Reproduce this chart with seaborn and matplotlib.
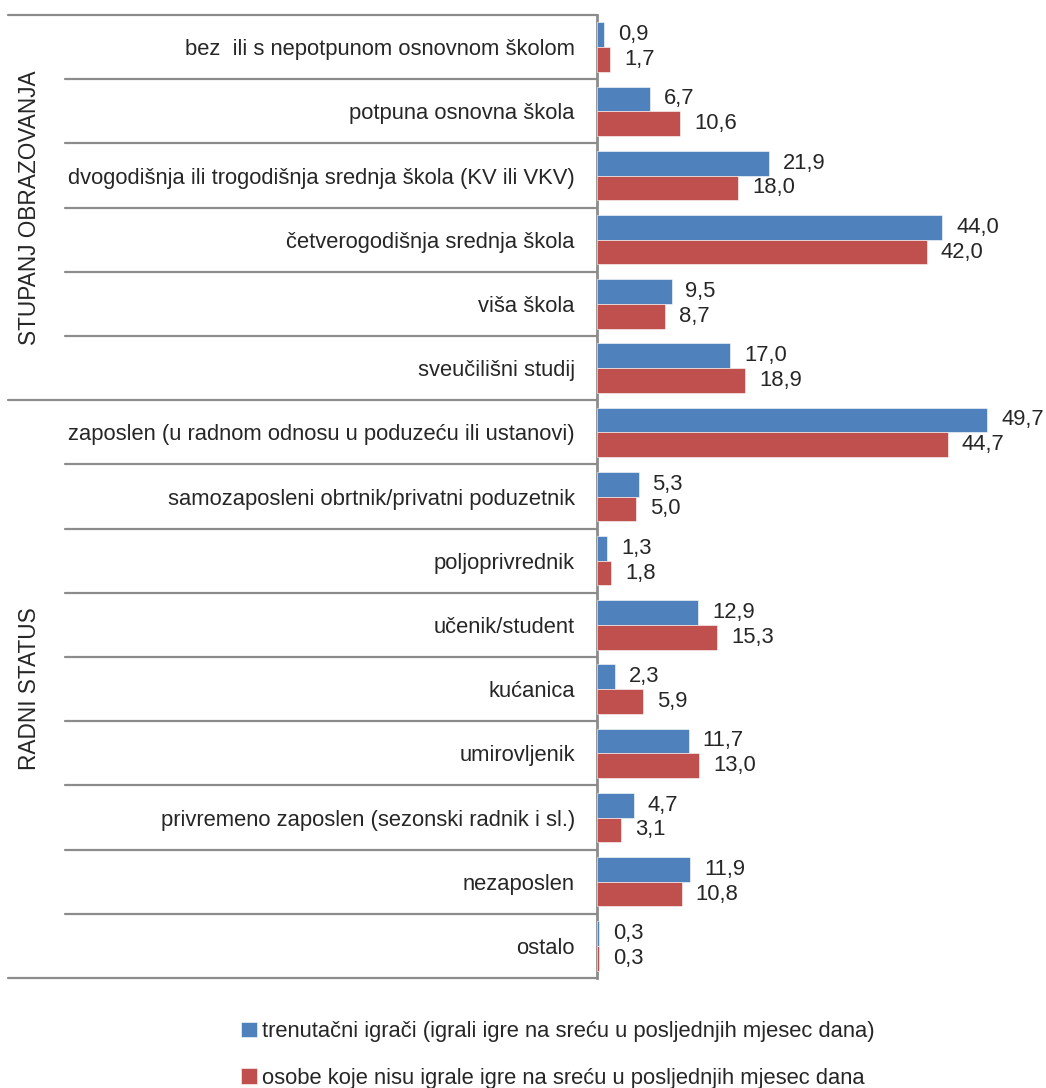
import matplotlib

matplotlib.use("Agg")

import matplotlib.pyplot as plt
import matplotlib.transforms as mtransforms
import pandas as pd
import seaborn as sns
from matplotlib import font_manager

categories = [
    "bez  ili s nepotpunom osnovnom školom",
    "potpuna osnovna škola",
    "dvogodišnja ili trogodišnja srednja škola (KV ili VKV)",
    "četverogodišnja srednja škola",
    "viša škola",
    "sveučilišni studij",
    "zaposlen (u radnom odnosu u poduzeću ili ustanovi)",
    "samozaposleni obrtnik/privatni poduzetnik",
    "poljoprivrednik",
    "učenik/student",
    "kućanica",
    "umirovljenik",
    "privremeno zaposlen (sezonski radnik i sl.)",
    "nezaposlen",
    "ostalo",
]
current_players = [0.9, 6.7, 21.9, 44.0, 9.5, 17.0, 49.7, 5.3, 1.3, 12.9, 2.3, 11.7, 4.7, 11.9, 0.3]
non_players = [1.7, 10.6, 18.0, 42.0, 8.7, 18.9, 44.7, 5.0, 1.8, 15.3, 5.9, 13.0, 3.1, 10.8, 0.3]
series_names = [
    "trenutačni igrači (igrali igre na sreću u posljednjih mjesec dana)",
    "osobe koje nisu igrale igre na sreću u posljednjih mjesec dana",
]
groups = [("STUPANJ OBRAZOVANJA", 0, 6), ("RADNI STATUS", 6, 15)]

names = {f.name for f in font_manager.fontManager.ttflist}
if "Liberation Sans Narrow" in names:
    FONT, SIZE = "Liberation Sans Narrow", 18.5
else:
    FONT, SIZE = "Liberation Sans", 15.8

sns.set_style("white")
plt.rcParams["font.family"] = [FONT, "DejaVu Sans"]

df = pd.DataFrame(
    {
        "category": categories * 2,
        "series": [series_names[0]] * len(categories) + [series_names[1]] * len(categories),
        "value": current_players + non_players,
    }
)

W, H = 1046, 1088
ax_left, ax_right, ax_top, ax_bottom = 597, 1040, 15, 978
fig = plt.figure(figsize=(W / 100, H / 100), dpi=100)
ax = fig.add_axes([ax_left / W, 1 - ax_bottom / H, (ax_right - ax_left) / W, (ax_bottom - ax_top) / H])

sns.barplot(
    data=df,
    y="category",
    x="value",
    hue="series",
    orient="h",
    palette=["#4F81BD", "#C0504D"],
    width=0.77,
    saturation=1,
    edgecolor="white",
    linewidth=0.4,
    ax=ax,
)

ax.set_xlim(0, (ax_right - ax_left) / 7.85)
ax.set_ylim(len(categories) - 0.5, -0.5)
ax.set_xlabel("")
ax.set_ylabel("")
ax.set_xticks([])
ax.tick_params(axis="y", length=0, pad=16, labelsize=SIZE)
for side in ["top", "right", "bottom"]:
    ax.spines[side].set_visible(False)
ax.spines["left"].set_color("#8c8c8c")
ax.spines["left"].set_linewidth(2)
ax.spines["left"].set_zorder(0.5)

for container in ax.containers:
    labels = [f"{bar.get_width():.1f}".replace(".", ",") for bar in container]
    ax.bar_label(container, labels=labels, padding=10, fontsize=SIZE)

# separator lines reaching into the label area
trans = mtransforms.blended_transform_factory(ax.transAxes, ax.transData)
ax_w = ax_right - ax_left
inner_x = (65 - ax_left) / ax_w
outer_x = (8 - ax_left) / ax_w
group_edges = {0, 6, 15}
for i in range(len(categories) + 1):
    start = outer_x if i in group_edges else inner_x
    ax.plot([start, 0], [i - 0.5, i - 0.5], transform=trans, color="#8c8c8c",
            linewidth=1.6, clip_on=False)

for title, first, last in groups:
    ax.text((30 - ax_left) / ax_w, (first + last - 1) / 2, title, transform=trans,
            rotation=90, ha="center", va="center", fontsize=SIZE + 0.5)

sns.move_legend(
    ax,
    "center",
    bbox_to_anchor=(558 / W, 1 - 1055 / H),
    bbox_transform=fig.transFigure,
    title=None,
    frameon=False,
    fontsize=SIZE,
    handlelength=0.7,
    handleheight=0.7,
    handletextpad=0.25,
    labelspacing=1.15,
)

fig.savefig("out.png", dpi=100)
plt.close(fig)
